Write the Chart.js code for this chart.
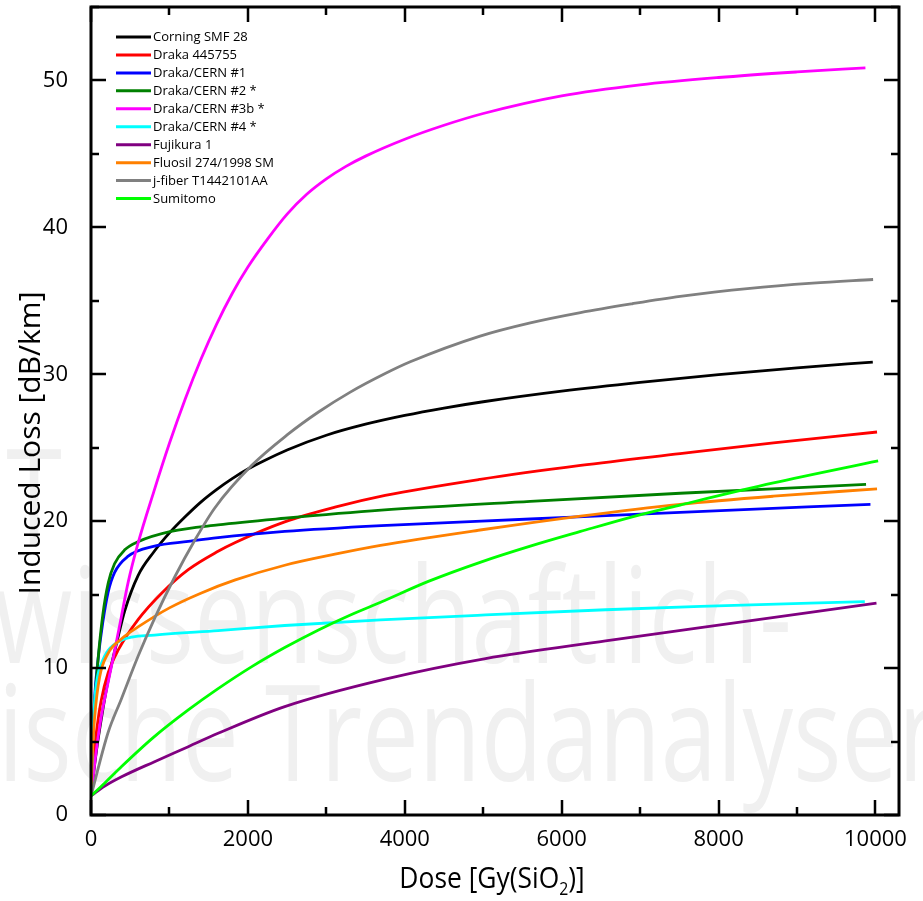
<!DOCTYPE html>
<html>
<head>
<meta charset="utf-8">
<script src="https://cdn.jsdelivr.net/npm/chart.js@4.4.1/dist/chart.umd.min.js"></script>
<style>
  html, body { margin: 0; padding: 0; background: #fff; }
</style>
</head>
<body>
<canvas id="chart" width="923" height="901"></canvas>
<script>
// Induced loss [dB/km] vs dose [Gy(SiO2)], points as [dose, loss]
const corning = [[0,1.3],[60,4.0],[130,6.5],[220,9.2],[340,12.0],[430,13.9],[600,16.3],[800,17.9],[1000,19.2],[1200,20.3],[1400,21.3],[1600,22.15],[1800,22.9],[2000,23.55],[2200,24.1],[2500,24.85],[3000,25.85],[3500,26.6],[4000,27.2],[4500,27.7],[5000,28.13],[6000,28.85],[7000,29.45],[8000,29.97],[9000,30.44],[9966,30.83]];
const draka = [[0,1.3],[30,3.6],[68,5.6],[130,7.8],[217,9.65],[344,11.2],[600,13.3],[900,15.1],[1240,16.7],[1620,17.95],[1840,18.55],[2470,19.95],[3110,20.95],[3750,21.75],[4960,22.85],[6240,23.8],[7510,24.6],[8700,25.33],[10020,26.07]];
const cern1 = [[0,1.3],[20,5],[50,8.3],[90,10.6],[150,13.1],[220,15.2],[300,16.5],[470,17.6],[810,18.3],[1240,18.62],[1620,18.88],[2470,19.3],[3700,19.7],[5600,20.15],[7510,20.6],[9936,21.15]];
const cern2 = [[0,1.3],[20,5],[47,7.6],[90,10.6],[150,13.6],[220,15.8],[300,17.1],[430,18.05],[600,18.6],[1020,19.3],[1620,19.75],[2470,20.2],[3700,20.75],[5600,21.35],[7510,21.9],[9880,22.5]];
const cern3b = [[0,1.3],[68,4.4],[131,6.7],[217,9.0],[302,11.2],[387,13.5],[472,15.8],[600,18.5],[800,22.0],[1000,25.3],[1200,28.3],[1400,31.0],[1600,33.4],[1800,35.5],[2000,37.3],[2250,39.2],[2500,40.9],[2750,42.25],[3000,43.3],[3250,44.15],[3500,44.85],[4000,46.0],[4500,46.95],[5000,47.75],[6000,48.95],[7000,49.7],[8000,50.2],[9000,50.58],[9872,50.86]];
const cern4 = [[0,1.3],[20,4.8],[47,7.8],[90,9.6],[131,10.3],[217,11.2],[390,11.9],[810,12.25],[1620,12.55],[2470,12.9],[3690,13.28],[5030,13.62],[6560,13.97],[7770,14.2],[9864,14.53]];
const fujikura = [[0,1.3],[170,1.95],[390,2.6],[810,3.63],[1240,4.65],[1620,5.56],[2470,7.38],[3750,9.25],[5030,10.65],[6560,11.85],[7770,12.75],[10013,14.42]];
const fluosil = [[0,1.3],[20,4.5],[47,6.7],[110,9.4],[217,11.0],[390,12.0],[600,12.8],[1000,14.1],[1400,15.1],[1840,16.0],[2470,17.0],[3110,17.75],[3690,18.35],[4960,19.4],[6240,20.35],[7510,21.15],[8700,21.7],[10020,22.2]];
const jfiber = [[0,1.3],[217,5.6],[387,7.9],[600,10.8],[812,13.4],[1067,16.2],[1323,18.7],[1578,20.9],[2050,23.8],[2500,25.87],[2900,27.43],[3300,28.77],[3750,30.05],[4070,30.85],[4960,32.6],[5600,33.5],[6240,34.2],[6900,34.8],[7510,35.3],[8400,35.85],[9200,36.2],[9970,36.45]];
const sumitomo = [[0,1.3],[170,2.15],[390,3.3],[800,5.3],[1240,7.15],[1620,8.6],[2050,10.1],[2470,11.4],[2900,12.6],[3300,13.6],[3700,14.5],[4300,15.9],[4960,17.2],[5600,18.3],[6240,19.3],[6900,20.3],[7510,21.1],[8700,22.6],[10034,24.1]];

const names = ["Corning SMF 28", "Draka 445755", "Draka/CERN #1", "Draka/CERN #2 *", "Draka/CERN #3b *",
  "Draka/CERN #4 *", "Fujikura 1", "Fluosil 274/1998 SM", "j-fiber T1442101AA", "Sumitomo"];
const series = [corning, draka, cern1, cern2, cern3b, cern4, fujikura, fluosil, jfiber, sumitomo];
const colors = ["#000000", "#ff0000", "#0000ff", "#008000", "#ff00ff", "#00ffff", "#800080", "#ff8000", "#808080", "#00ff00"];

// tick positions (labels only on the major ones)
const xTicks = [0, 1000, 2000, 3000, 4000, 5000, 6000, 7000, 8000, 9000, 10000];
const yTicks = [0, 5, 10, 15, 20, 25, 30, 35, 40, 45, 50, 55];

const FONT = '"Open Sans", "Noto Sans", sans-serif';

// faint background text, frame with inward ticks, legend and axis titles
const decor = {
  id: "decor",
  beforeDraw(chart) {
    const ctx = chart.ctx;
    ctx.save();
    ctx.fillStyle = "#fff";
    ctx.fillRect(0, 0, chart.width, chart.height);
    ctx.fillStyle = "#f0f0f0";
    ctx.font = "133px " + FONT;
    const sx = 0.76;
    ctx.scale(sx, 1);
    ctx.textBaseline = "alphabetic";
    ctx.textAlign = "right";
    ctx.fillText("IT", 62 / sx, 545);
    ctx.textAlign = "left";
    ctx.fillText("wissenschaftlich-", -6 / sx, 663);
    ctx.fillText("ische Trendanalysen", -2 / sx, 781);
    ctx.restore();
  },
  afterDatasetsDraw(chart) {
    const ctx = chart.ctx;
    const a = chart.chartArea;
    const xs = chart.scales.x, ys = chart.scales.y;
    ctx.save();
    ctx.strokeStyle = "#000";
    ctx.lineWidth = 2.5;
    ctx.beginPath();
    xs.ticks.forEach(t => {
      const px = Math.round(xs.getPixelForValue(t.value));
      const len = t.value % 2000 === 0 ? 15 : 8;
      ctx.moveTo(px, a.bottom); ctx.lineTo(px, a.bottom - len);
      ctx.moveTo(px, a.top); ctx.lineTo(px, a.top + len);
    });
    ys.ticks.forEach(t => {
      const py = Math.round(ys.getPixelForValue(t.value));
      const len = t.value % 10 === 0 ? 15 : 8;
      ctx.moveTo(a.left, py); ctx.lineTo(a.left + len, py);
      ctx.moveTo(a.right, py); ctx.lineTo(a.right - len, py);
    });
    ctx.stroke();
    ctx.lineWidth = 3;
    ctx.strokeRect(a.left, a.top, a.right - a.left, a.bottom - a.top);

    // legend
    ctx.font = "13px " + FONT;
    ctx.textBaseline = "middle";
    ctx.textAlign = "left";
    chart.data.datasets.forEach((ds, i) => {
      const y = 37 + i * 17.95;
      ctx.strokeStyle = ds.borderColor;
      ctx.lineWidth = 3;
      ctx.beginPath();
      ctx.moveTo(116, y); ctx.lineTo(151, y);
      ctx.stroke();
      ctx.fillStyle = "#000";
      ctx.fillText(ds.label, 153, y + 0.5);
    });

    // y title
    ctx.fillStyle = "#000";
    ctx.font = "30px " + FONT;
    ctx.textBaseline = "alphabetic";
    ctx.save();
    ctx.translate(40, 443);
    ctx.rotate(-Math.PI / 2);
    ctx.textAlign = "center";
    ctx.fillText("Induced Loss [dB/km]", 0, 0);
    ctx.restore();

    // x title with subscript
    const p1 = "Dose [Gy(SiO", p2 = "2", p3 = ")]";
    ctx.font = "30px " + FONT;
    const w1 = ctx.measureText(p1).width, w3 = ctx.measureText(p3).width;
    ctx.font = "18px " + FONT;
    const w2 = ctx.measureText(p2).width;
    const sq = 0.88;
    const total = (w1 + w2 + w3) * sq;
    ctx.save();
    ctx.translate(492 - total / 2, 888);
    ctx.scale(sq, 1);
    ctx.textAlign = "left";
    ctx.font = "30px " + FONT;
    ctx.fillText(p1, 0, 0);
    ctx.font = "18px " + FONT;
    ctx.fillText(p2, w1, 7);
    ctx.font = "30px " + FONT;
    ctx.fillText(p3, w1 + w2, 0);
    ctx.restore();
    ctx.restore();
  }
};

new Chart(document.getElementById("chart"), {
  type: "line",
  plugins: [decor],
  data: {
    datasets: series.map((pts, i) => ({
      label: names[i],
      data: pts.map(p => ({ x: p[0], y: p[1] })),
      borderColor: colors[i],
      backgroundColor: colors[i],
      borderWidth: 2.8,
      pointRadius: 0,
      fill: false,
      cubicInterpolationMode: "monotone",
      order: series.length - i
    }))
  },
  options: {
    responsive: false,
    animation: false,
    layout: { padding: { top: 7, right: 24, left: 0, bottom: 0 } },
    plugins: { legend: { display: false }, tooltip: { enabled: false } },
    scales: {
      x: {
        type: "linear",
        min: 0,
        max: 10300,
        afterBuildTicks: s => { s.ticks = xTicks.map(v => ({ value: v })); },
        afterFit: s => { s.height = 86; },
        grid: { display: false },
        border: { display: false },
        ticks: {
          autoSkip: false,
          maxRotation: 0,
          minRotation: 0,
          padding: 4,
          color: "#000",
          font: { family: FONT, size: 22 },
          callback: v => (v % 2000 === 0 ? String(v) : "")
        }
      },
      y: {
        type: "linear",
        min: 0,
        max: 55,
        afterBuildTicks: s => { s.ticks = yTicks.map(v => ({ value: v })); },
        afterFit: s => { s.width = 91; s.paddingTop = 0; s.paddingBottom = 0; },
        grid: { display: false },
        border: { display: false },
        ticks: {
          autoSkip: false,
          padding: 15,
          color: "#000",
          font: { family: FONT, size: 22 },
          callback: v => (v % 10 === 0 ? String(v) : "")
        }
      }
    }
  }
});
</script>
</body>
</html>
